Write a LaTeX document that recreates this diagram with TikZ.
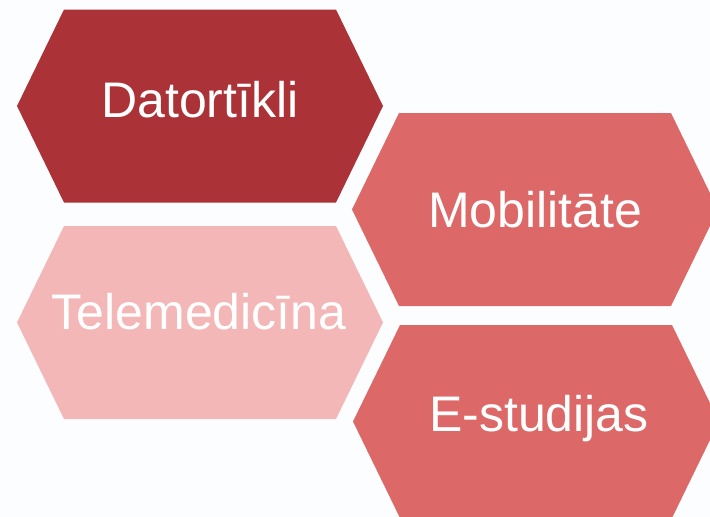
\documentclass[tikz,border=0pt]{standalone}
\usepackage{fontspec}
\setmainfont{Liberation Sans}
\usetikzlibrary{calc}

\definecolor{hexdark}{HTML}{AB3337}
\definecolor{hexmid}{HTML}{DD6868}
\definecolor{hexlight}{HTML}{F4B7B7}
\definecolor{pagebg}{HTML}{FCFDFE}

\begin{document}
\begin{tikzpicture}[x=1pt,y=-1pt]
\tikzset{
	HexLabel/.style = {text=white, font=\fontsize{50}{60}\selectfont, anchor=base, inner sep=0pt}
}
\fill[pagebg] (0,0) rectangle (710,517);
\useasboundingbox (0,0) rectangle (710,517);
% centre x, centre y, colour, label x, baseline of the label
\foreach \name/\x/\y/\col/\lx/\base/\txt in {
	dator/200/106/hexdark/200/117/Datortīkli,
	mobil/535/209.5/hexmid/535/227/Mobilitāte,
	telemed/200/322.5/hexlight/199/329/Telemedicīna,
	estud/536/421.5/hexmid/539/431/E-studijas}
{
	\fill[\col] (\x,\y) ++(-183,0) -- ++(47,-96.5) -- ++(272,0) -- ++(47,96.5)
		-- ++(-47,96.5) -- ++(-272,0) -- cycle;
	\node[HexLabel] (\name) at (\lx,\base) {\txt};
}
\end{tikzpicture}
\end{document}
